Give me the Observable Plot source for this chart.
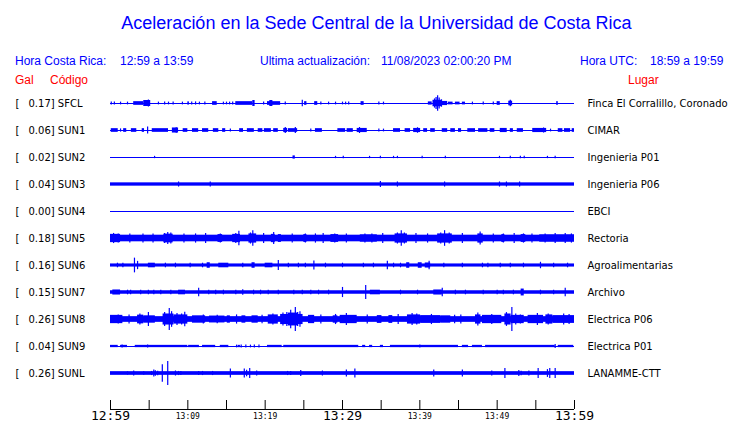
<!DOCTYPE html>
<html>
<head>
<meta charset="utf-8">
<script src="https://cdn.jsdelivr.net/npm/d3@7"></script>
<script src="https://cdn.jsdelivr.net/npm/@observablehq/plot@0.6"></script>
<style>
  html, body { margin: 0; padding: 0; background: #fff; }
  #page { position: relative; width: 740px; height: 423px; overflow: hidden; }
  #header { position: relative; width: 740px; height: 88px; font-family: "Liberation Sans", Arial, sans-serif; }
  #header div { position: absolute; white-space: pre; }
  .t { font-size: 18px; line-height: 18px; color: #0000ff; }
  .h { font-size: 12px; line-height: 12px; color: #0000ff; }
  .r { font-size: 12px; line-height: 12px; color: #ff0000; }
  #chart svg { display: block; }
</style>
</head>
<body>
<div id="page">
  <div id="header">
    <div class="t" style="left:0;width:753px;text-align:center;top:14px;">Aceleración en la Sede Central de la Universidad de Costa Rica</div>
    <div class="h" style="left:15px;top:55px;">Hora Costa Rica:</div>
    <div class="h" style="left:120px;top:55px;">12:59 a 13:59</div>
    <div class="h" style="left:260px;top:55px;">Ultima actualización:</div>
    <div class="h" style="left:381px;top:55px;">11/08/2023 02:00:20 PM</div>
    <div class="h" style="left:580px;top:55px;">Hora UTC:</div>
    <div class="h" style="left:650px;top:55px;">18:59 a 19:59</div>
    <div class="r" style="left:15px;top:74px;">Gal</div>
    <div class="r" style="left:50px;top:74px;">Código</div>
    <div class="r" style="left:628px;top:74px;">Lugar</div>
  </div>
  <div id="chart"></div>
</div>
<script>
// ---------------- data (minutes after 12:59, acceleration in Gal) ----------------
const codes = ["SFCL","SUN1","SUN2","SUN3","SUN4","SUN5","SUN6","SUN7","SUN8","SUN9","SUNL"];
const peakGal = [0.17,0.06,0.02,0.04,0.00,0.18,0.16,0.15,0.26,0.04,0.26];
const places = ["Finca El Corralillo, Coronado","CIMAR","Ingenieria P01","Ingenieria P06","EBCI","Rectoria","Agroalimentarias","Archivo","Electrica P06","Electrica P01","LANAMME-CTT"];
// steady background noise level (half amplitude, Gal)
const noiseGal = [0, 0, 0, 0.036, 0, 0.072, 0.034, 0.038, 0.062, 0, 0.04];

// bursts: [start minute, end minute, half amplitude Gal]
const sfclBursts = [[3.0,4.3,0.04],[4.3,5.2,0.065],[10.0,10.2,0.035],[13.2,13.8,0.04],[16.2,18.4,0.04],[18.4,18.7,0.065],[20.3,22.0,0.04],[20.6,21.0,0.065],[25.1,25.4,0.04],[26.4,26.8,0.04],[32.4,32.8,0.04],[41.1,41.6,0.035],[41.7,42.9,0.07],[42.9,43.6,0.045],[43.7,44.3,0.03],[44.6,45.2,0.03],[45.5,45.9,0.03],[50.0,50.4,0.04],[51.5,52.0,0.05],[57.7,57.9,0.04]];
const sun1Bursts = [[0.1,1.0,0.04],[1.7,2.1,0.04],[2.7,3.4,0.04],[4.1,4.4,0.04],[5.4,7.5,0.04],[8.0,8.8,0.055],[9.4,10.0,0.04],[10.6,11.4,0.04],[11.9,12.7,0.04],[13.3,14.0,0.04],[14.5,14.9,0.04],[16.7,17.2,0.04],[17.7,18.6,0.04],[19.1,19.7,0.04],[19.9,20.8,0.04],[21.1,21.7,0.04],[22.4,22.9,0.045],[23.0,24.2,0.04],[26.5,27.4,0.04],[29.4,30.4,0.04],[30.6,31.4,0.04],[31.9,33.2,0.045],[36.6,37.5,0.04],[38.1,38.8,0.04],[39.2,40.1,0.045],[40.5,41.0,0.04],[41.4,42.0,0.04],[42.9,43.6,0.04],[44.0,44.6,0.04],[45.0,45.4,0.04],[46.2,47.2,0.04],[47.6,48.8,0.04],[49.1,49.7,0.04],[50.4,51.3,0.045],[51.7,52.1,0.04],[52.6,53.4,0.04],[54.6,56.4,0.045],[57.9,58.5,0.04],[58.7,59.5,0.04],[59.7,60,0.04]];
const sun2Bursts = [[23.6,23.9,0.035]];
const sun3Bursts = [];
const sun4Bursts = [];
const sun5Bursts = [[0,1.3,0.09],[6.9,8.1,0.095],[13.9,14.5,0.085],[15.8,16.8,0.09],[17.9,18.9,0.1],[20.8,21.3,0.09],[21.7,22.1,0.085],[25.0,25.4,0.085],[28.5,29.5,0.085],[32.3,34.5,0.08],[36.8,38.4,0.1],[42.3,44.2,0.1],[47.5,48.2,0.1],[50.6,51.0,0.085],[53.1,53.7,0.085],[55.5,60,0.08]];
const sun6Bursts = [[4.9,5.8,0.05],[12.5,12.9,0.06],[14.0,15.3,0.05],[18.3,18.7,0.06],[20.0,21.0,0.05],[38.3,38.7,0.06],[39.8,40.3,0.06],[40.7,41.4,0.055]];
const sun7Bursts = [[0.3,1.3,0.055],[8.8,9.7,0.05],[33.6,34.9,0.05],[41.8,42.9,0.055],[53.1,53.5,0.075]];
const sun8Bursts = [[0,1.6,0.09],[3.5,4.3,0.095],[4.3,5.8,0.08],[6.8,8.2,0.12],[8.2,10.0,0.1],[10.6,12.3,0.08],[12.8,14.8,0.075],[15.1,15.5,0.08],[17.0,17.5,0.08],[18.3,19.1,0.08],[20.4,21.7,0.1],[22.0,24.9,0.11],[23.0,24.3,0.14],[25.6,26.4,0.09],[28.8,29.4,0.08],[29.7,31.9,0.09],[34.5,35.1,0.085],[36.0,36.5,0.085],[38.4,40.1,0.1],[40.1,42.7,0.085],[42.7,44.0,0.08],[47.2,47.9,0.1],[48.1,50.6,0.09],[51.0,51.8,0.12],[51.8,53.5,0.09],[54.0,56.0,0.09],[56.3,57.2,0.1],[57.2,60,0.085]];
const sun9Bursts = [[0,1.0,0.025],[1.3,2.2,0.025],[3.2,10.0,0.025],[10.1,11.5,0.025],[11.9,13.6,0.025],[14.2,15.3,0.025],[16.5,16.8,0.025],[20.3,22.2,0.025],[22.4,32.1,0.025],[32.6,33.0,0.025],[33.5,33.9,0.025],[34.9,35.3,0.025],[36.2,45.0,0.025],[45.5,46.3,0.025],[46.8,48.1,0.025],[48.5,57.5,0.025],[57.9,59.9,0.025]];
const sunlBursts = [];

// spikes: [minute, half amplitude Gal]
const sfclSpikes = [[0.1,0.03],[0.5,0.03],[1.3,0.03],[2.2,0.03],[4.9,0.075],[6.2,0.03],[7.0,0.03],[7.5,0.03],[8.1,0.03],[9.3,0.03],[10.5,0.03],[11.0,0.035],[11.5,0.03],[12.2,0.03],[14.6,0.03],[15.0,0.03],[15.4,0.03],[15.8,0.03],[19.8,0.03],[22.6,0.03],[24.8,0.07],[27.2,0.03],[28.2,0.03],[29.1,0.03],[30.0,0.03],[30.4,0.03],[30.8,0.03],[34.7,0.03],[35.3,0.03],[41.9,0.1],[42.1,0.13],[42.3,0.17],[42.5,0.12],[42.8,0.08],[46.8,0.03],[48.2,0.03],[49.5,0.035],[51.7,0.07]];
const sun1Spikes = [[1.3,0.035],[4.8,0.075],[8.5,0.06],[15.5,0.03],[22.6,0.065],[23.9,0.065],[25.9,0.03],[32.2,0.065],[34.7,0.03],[35.3,0.03],[39.7,0.06],[56.0,0.055],[56.9,0.03]];
const sun2Spikes = [[5.7,0.025],[29.1,0.025],[30.1,0.025],[33.5,0.025],[34.9,0.025],[36.6,0.025],[37.1,0.025],[40.3,0.025],[43.3,0.025],[50.3,0.025],[51.7,0.025],[53.0,0.025],[53.5,0.025],[56.5,0.025],[57.5,0.025]];
const sun3Spikes = [[8.8,0.055],[12.9,0.055],[34.9,0.065],[37.1,0.055],[43.2,0.055],[50.3,0.055],[51.2,0.055],[52.9,0.055]];
const sun4Spikes = [];
const sun5Spikes = [[0.4,0.11],[1.0,0.1],[7.4,0.13],[7.0,0.11],[7.8,0.12],[16.6,0.16],[16.2,0.11],[18.4,0.17],[18.1,0.12],[21.1,0.13],[37.6,0.17],[37.1,0.12],[38.0,0.12],[43.2,0.17],[42.7,0.12],[43.8,0.12],[47.8,0.14],[2.5,0.1],[4.2,0.1],[5.5,0.1],[9.5,0.1],[11.0,0.1],[12.3,0.11],[14.2,0.1],[19.8,0.11],[23.5,0.1],[25.2,0.1],[26.5,0.1],[27.5,0.11],[29.0,0.1],[30.5,0.1],[32.9,0.1],[33.8,0.1],[35.2,0.11],[39.5,0.11],[41.0,0.1],[45.5,0.11],[49.5,0.1],[50.8,0.1],[52.2,0.11],[53.4,0.1],[54.5,0.1],[56.2,0.1],[57.5,0.11],[58.8,0.11],[59.6,0.1]];
const sun6Spikes = [[0.9,0.05],[1.6,0.05],[3.1,0.16],[3.5,0.09],[7.1,0.05],[8.4,0.05],[10.3,0.05],[11.9,0.05],[17.1,0.05],[21.7,0.11],[23.0,0.05],[24.3,0.05],[25.2,0.05],[26.3,0.1],[27.8,0.05],[30.0,0.05],[32.7,0.05],[34.0,0.05],[35.8,0.09],[36.6,0.05],[37.5,0.05],[41.2,0.09],[43.1,0.05],[45.5,0.05],[48.1,0.05],[48.8,0.05],[50.4,0.05],[51.7,0.05],[53.4,0.05],[55.6,0.07],[57.3,0.05],[59.1,0.05]];
const sun7Spikes = [[2.2,0.05],[2.6,0.05],[3.9,0.05],[4.9,0.05],[5.6,0.05],[6.5,0.05],[7.8,0.05],[11.4,0.09],[12.7,0.05],[13.6,0.05],[14.6,0.05],[16.2,0.05],[17.1,0.06],[18.5,0.05],[19.4,0.05],[20.4,0.05],[21.7,0.05],[23.7,0.05],[24.8,0.05],[25.9,0.05],[26.9,0.05],[28.2,0.05],[30.0,0.11],[33.0,0.15],[37.5,0.05],[39.7,0.05],[42.9,0.09],[44.6,0.05],[45.9,0.05],[48.2,0.05],[50.0,0.05],[50.8,0.05],[52.1,0.05],[55.6,0.05],[57.3,0.05],[58.8,0.09]];
const sun8Spikes = [[4.9,0.15],[7.6,0.24],[7.0,0.15],[7.9,0.17],[8.6,0.13],[9.2,0.12],[9.6,0.16],[21.0,0.12],[22.3,0.14],[22.8,0.15],[23.3,0.2],[23.9,0.26],[24.2,0.15],[24.5,0.17],[29.1,0.11],[30.5,0.13],[39.0,0.13],[39.6,0.12],[47.5,0.14],[51.2,0.15],[51.9,0.26],[52.4,0.12],[56.6,0.12],[1.0,0.1],[2.4,0.1],[3.8,0.12],[12.0,0.1],[13.8,0.09],[16.3,0.1],[19.6,0.09],[27.2,0.1],[33.2,0.1],[37.2,0.11],[41.5,0.11],[44.5,0.09],[45.3,0.1],[49.3,0.11],[53.0,0.1],[55.2,0.13],[58.6,0.12],[59.3,0.11]];
const sun9Spikes = [[1.5,0.035],[4.8,0.035],[16.3,0.03],[16.9,0.03],[17.5,0.03],[18.1,0.03],[18.6,0.03],[19.2,0.03],[40.0,0.03],[57.5,0.045]];
const sunlSpikes = [[2.2,0.035],[3.0,0.055],[4.3,0.04],[5.3,0.045],[5.6,0.075],[5.8,0.06],[6.1,0.05],[6.7,0.19],[7.4,0.26],[8.4,0.055],[8.8,0.045],[9.1,0.045],[11.4,0.045],[11.9,0.045],[13.2,0.045],[15.5,0.1],[17.3,0.1],[17.6,0.07],[18.0,0.11],[18.9,0.055],[22.9,0.045],[23.3,0.045],[24.6,0.065],[27.4,0.055],[30.5,0.075],[31.6,0.1],[41.8,0.075],[45.5,0.075],[49.3,0.055],[51.0,0.11],[52.8,0.065],[53.1,0.05],[54.1,0.055],[55.3,0.11],[56.5,0.085],[56.8,0.11],[57.5,0.11]];

// time axis
const tickMinutes = [0,5,10,15,20,25,30,35,40,45,50,55,60];
const bigTickMinutes = [0,30,60];
const bigTickLabels = ["12:59","13:29","13:59"];
const smallTickMinutes = [10,20,40,50];
const smallTickLabels = ["13:09","13:19","13:39","13:49"];

// ---------------- build tables ----------------
const allBursts = [sfclBursts,sun1Bursts,sun2Bursts,sun3Bursts,sun4Bursts,sun5Bursts,sun6Bursts,sun7Bursts,sun8Bursts,sun9Bursts,sunlBursts];
const allSpikes = [sfclSpikes,sun1Spikes,sun2Spikes,sun3Spikes,sun4Spikes,sun5Spikes,sun6Spikes,sun7Spikes,sun8Spikes,sun9Spikes,sunlSpikes];

const GAL_PER_ROW = 27 / 46; // display gain: one trace spacing in Gal
const rows = codes.map((c, i) => ({i, code: c, gal: peakGal[i], place: places[i], noise: noiseGal[i]}));
const bands = rows.filter(r => r.noise > 0).map(r => ({i: r.i, t0: 0, t1: 60, a: r.noise}));
const bursts = allBursts.flatMap((list, i) => list.map(([t0, t1, a]) => ({i, t0, t1, a})));
const spikes = allSpikes.flatMap((list, i) => list.map(([t, a]) => ({i, t, a})));
const lo = d => d.i - d.a / GAL_PER_ROW;
const hi = d => d.i + d.a / GAL_PER_ROW;

const BLUE = "#0000ff";
const AXIS_Y = 11.333, TICK_TOP = 11.0, BIG_LABEL_Y = 11.74, SMALL_LABEL_Y = 11.69;

const chart = Plot.plot({
  width: 740,
  height: 335,
  margin: 0,
  style: {background: "white", fontFamily: "DejaVu Sans", fontSize: "10px", color: "black"},
  x: {domain: [0, 60], range: [110, 574], axis: null},
  y: {domain: [0, 10], range: [15, 285], axis: null},
  marks: [
    Plot.ruleY(rows, {y: "i", x1: 0, x2: 60, stroke: BLUE, strokeWidth: 1}),
    Plot.rect(bands, {x1: "t0", x2: "t1", y1: lo, y2: hi, fill: BLUE}),
    Plot.rect(bursts, {x1: "t0", x2: "t1", y1: lo, y2: hi, fill: BLUE}),
    Plot.ruleX(spikes, {x: "t", y1: lo, y2: hi, stroke: BLUE, strokeWidth: 1.2}),
    // left labels
    Plot.text(rows, {x: 0, y: "i", text: () => "[", dx: -95, textAnchor: "start", fill: "black", fontSize: 10}),
    Plot.text(rows, {x: 0, y: "i", text: d => `${d.gal.toFixed(2)}] ${d.code}`, dx: -82, textAnchor: "start", fill: "black", fontSize: 10}),
    // right labels
    Plot.text(rows, {x: 60, y: "i", text: "place", dx: 13, textAnchor: "start", fill: "black", fontSize: 10}),
    // time axis
    Plot.ruleY([AXIS_Y], {x1: 0, x2: 60, stroke: "black"}),
    Plot.ruleX(tickMinutes, {x: d => d, y1: TICK_TOP, y2: AXIS_Y, stroke: "black"}),
    Plot.text(bigTickMinutes, {x: d => d, y: BIG_LABEL_Y, text: (d, i) => bigTickLabels[i], lineAnchor: "bottom", fontFamily: "DejaVu Sans Mono", fontSize: 13, fill: "black"}),
    Plot.text(smallTickMinutes, {x: d => d, y: SMALL_LABEL_Y, text: (d, i) => smallTickLabels[i], lineAnchor: "bottom", fontFamily: "DejaVu Sans Mono", fontSize: 8, fill: "black"})
  ]
});
document.getElementById("chart").appendChild(chart);
</script>
</body>
</html>
